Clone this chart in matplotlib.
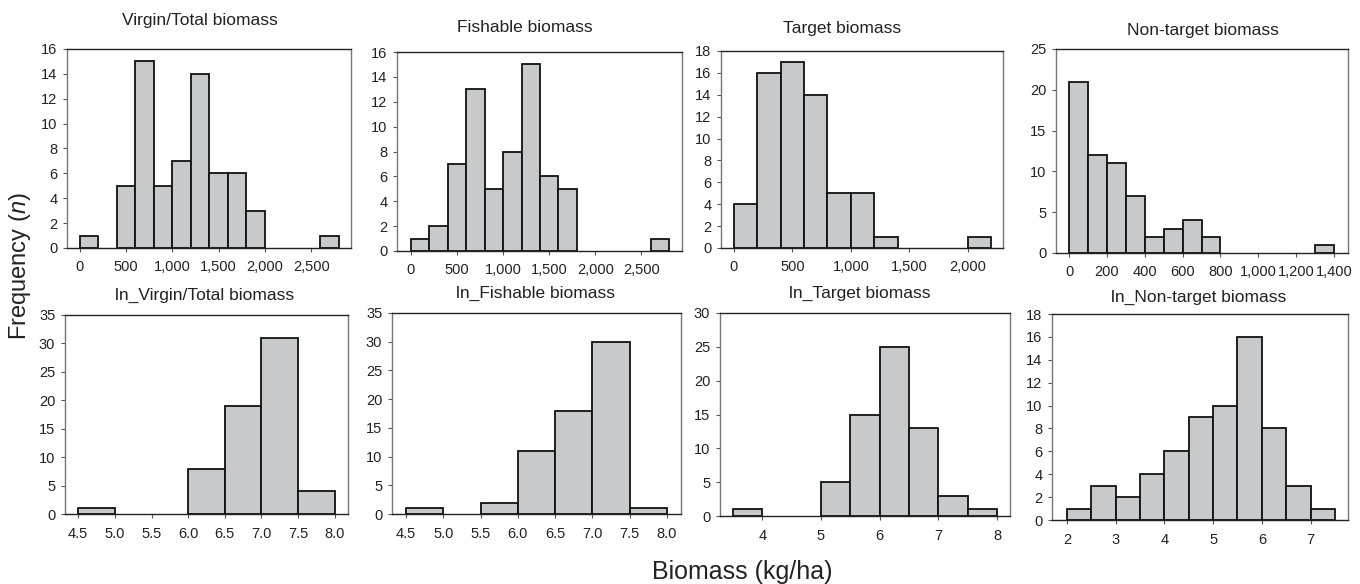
import matplotlib.pyplot as plt
from matplotlib.ticker import FuncFormatter

plt.rcParams['font.family'] = ['Liberation Sans', 'DejaVu Sans']
plt.rcParams['mathtext.fontset'] = 'custom'
plt.rcParams['mathtext.it'] = 'Liberation Sans:italic'

# histogram data: bin left edges and counts
virgin_bins = [0, 200, 400, 600, 800, 1000, 1200, 1400, 1600, 1800, 2000, 2200, 2400, 2600]
virgin_counts = [1, 0, 5, 15, 5, 7, 14, 6, 6, 3, 0, 0, 0, 1]

fishable_bins = [0, 200, 400, 600, 800, 1000, 1200, 1400, 1600, 1800, 2000, 2200, 2400, 2600]
fishable_counts = [1, 2, 7, 13, 5, 8, 15, 6, 5, 0, 0, 0, 0, 1]

target_bins = [0, 200, 400, 600, 800, 1000, 1200, 1400, 1600, 1800, 2000]
target_counts = [4, 16, 17, 14, 5, 5, 1, 0, 0, 0, 1]

nontarget_bins = [0, 100, 200, 300, 400, 500, 600, 700, 800, 900, 1000, 1100, 1200, 1300]
nontarget_counts = [21, 12, 11, 7, 2, 3, 4, 2, 0, 0, 0, 0, 0, 1]

ln_virgin_bins = [4.5, 5.0, 5.5, 6.0, 6.5, 7.0, 7.5]
ln_virgin_counts = [1, 0, 0, 8, 19, 31, 4]

ln_fishable_bins = [4.5, 5.0, 5.5, 6.0, 6.5, 7.0, 7.5]
ln_fishable_counts = [1, 0, 2, 11, 18, 30, 1]

ln_target_bins = [3.5, 4.0, 4.5, 5.0, 5.5, 6.0, 6.5, 7.0, 7.5]
ln_target_counts = [1, 0, 0, 5, 15, 25, 13, 3, 1]

ln_nontarget_bins = [2.0, 2.5, 3.0, 3.5, 4.0, 4.5, 5.0, 5.5, 6.0, 6.5, 7.0]
ln_nontarget_counts = [1, 3, 2, 4, 6, 9, 10, 16, 8, 3, 1]

titles = ['Virgin/Total biomass', 'Fishable biomass', 'Target biomass', 'Non-target biomass',
          'ln_Virgin/Total biomass', 'ln_Fishable biomass', 'ln_Target biomass', 'ln_Non-target biomass']

W, H = 1360, 584
fig = plt.figure(figsize=(W / 100, H / 100), dpi=100)


def add_ax(left, top, right, bottom):
    return fig.add_axes([left / W, 1 - bottom / H, (right - left) / W, (bottom - top) / H])


def thousands(v, pos):
    return f'{int(round(v)):,}'


def one_dec(v, pos):
    return f'{v:.1f}'


def integer(v, pos):
    return f'{int(round(v))}'


# (bins, counts, width, box px, xlim, xticks, ymax, ystep, formatter, title pos)
panels = [
    (virgin_bins, virgin_counts, 200, (67, 49, 351, 248), (-140, 2930), range(0, 2501, 500), 16, 2, thousands, (200, 20)),
    (fishable_bins, fishable_counts, 200, (397, 52, 682, 251), (-150, 2940), range(0, 2501, 500), 16, 2, thousands, (525, 27)),
    (target_bins, target_counts, 200, (721, 51, 1003, 248), (-110, 2300), range(0, 2001, 500), 18, 2, thousands, (842, 29)),
    (nontarget_bins, nontarget_counts, 100, (1056, 49, 1348, 253), (-70, 1475), range(0, 1401, 200), 25, 5, thousands, (1203, 31)),
    (ln_virgin_bins, ln_virgin_counts, 0.5, (65, 315, 348, 514), (4.32, 8.18), [4.5, 5.0, 5.5, 6.0, 6.5, 7.0, 7.5, 8.0], 35, 5, one_dec, (205, 295)),
    (ln_fishable_bins, ln_fishable_counts, 0.5, (392, 313, 681, 514), (4.31, 8.19), [4.5, 5.0, 5.5, 6.0, 6.5, 7.0, 7.5, 8.0], 35, 5, one_dec, (535, 293)),
    (ln_target_bins, ln_target_counts, 0.5, (720, 313, 1010, 516), (3.28, 8.22), [4, 5, 6, 7, 8], 30, 5, integer, (860, 293)),
    (ln_nontarget_bins, ln_nontarget_counts, 0.5, (1052, 314, 1348, 520), (1.69, 7.77), [2, 3, 4, 5, 6, 7], 18, 2, integer, (1199, 297)),
]

for i, (bins, counts, w, box, xlim, xticks, ymax, ystep, fmt, tpos) in enumerate(panels):
    ax = add_ax(*box)
    xs = [b for b, c in zip(bins, counts) if c > 0]
    ys = [c for c in counts if c > 0]
    ax.bar(xs, ys, width=w, align='edge', color='#c8c9cb', edgecolor='#111111', linewidth=1.3, zorder=3)
    ax.set_xlim(*xlim)
    ax.set_ylim(0, ymax)
    ax.set_xticks(list(xticks))
    ax.set_yticks(range(0, ymax + 1, ystep))
    ax.xaxis.set_major_formatter(FuncFormatter(fmt))
    ax.tick_params(labelsize=10.5, length=3, width=0.8, color='#555555', labelcolor='#222222', pad=4)
    ax.tick_params(axis='x', pad=6)
    for side in ['left', 'right']:
        ax.spines[side].set_color('#777777')
        ax.spines[side].set_linewidth(1.0)
    for side in ['top', 'bottom']:
        ax.spines[side].set_color('#222222')
        ax.spines[side].set_linewidth(1.0)
    fig.text(tpos[0] / W, 1 - tpos[1] / H, titles[i], ha='center', va='center', fontsize=12.5, color='#222222')

fig.text(20 / W, 1 - 266 / H, 'Frequency ($\\it{n}$)', rotation=90, ha='center', va='center', fontsize=17, color='#222222')
fig.text(742 / W, 1 - 572 / H, 'Biomass (kg/ha)', ha='center', va='center', fontsize=18, color='#222222')

fig.savefig('out.png', dpi=100, facecolor='white')
